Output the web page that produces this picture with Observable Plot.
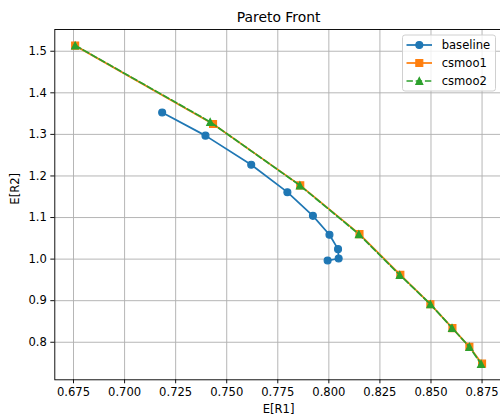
<!DOCTYPE html>
<html>
<head>
<meta charset="utf-8">
<script src="https://cdn.jsdelivr.net/npm/d3@7"></script>
<script src="https://cdn.jsdelivr.net/npm/@observablehq/plot@0.6"></script>
<style>
  html, body { margin: 0; padding: 0; background: white; overflow: hidden; }
</style>
</head>
<body>
<div id="chart"></div>
<script>
// ---- data ----
const seriesNames = ["baseline", "csmoo1", "csmoo2"];
const baselineX = [0.7184, 0.7396, 0.7620, 0.7797, 0.7922, 0.8003, 0.8045, 0.8048, 0.7994];
const baselineY = [1.3525, 1.2970, 1.2270, 1.1610, 1.1040, 1.0586, 1.0240, 1.0015, 0.9966];
const csmoo1X = [0.6758, 0.7433, 0.7860, 0.8150, 0.8350, 0.8497, 0.8605, 0.8688, 0.8750];
const csmoo1Y = [1.5135, 1.3250, 1.1774, 1.0600, 0.9620, 0.8916, 0.8340, 0.7890, 0.7485];
const csmoo2X = [0.6758, 0.7419, 0.7858, 0.8147, 0.8347, 0.8497, 0.8603, 0.8688, 0.8745];
const csmoo2Y = [1.5140, 1.3300, 1.1774, 1.0600, 0.9620, 0.8916, 0.8345, 0.7890, 0.7480];
const xTicks = [0.675, 0.700, 0.725, 0.750, 0.775, 0.800, 0.825, 0.850, 0.875];
const yTicks = [0.8, 0.9, 1.0, 1.1, 1.2, 1.3, 1.4, 1.5];
const titleText = "Pareto Front";
const xLabel = "E[R1]";
const yLabel = "E[R2]";

// ---- symbols (matplotlib-like) ----
const squareSym = { draw(ctx, size) { const s = Math.sqrt(size / Math.PI); ctx.moveTo(-s, -s); ctx.lineTo(s, -s); ctx.lineTo(s, s); ctx.lineTo(-s, s); ctx.closePath(); } };
const triSym = { draw(ctx, size) { const s = Math.sqrt(size / Math.PI); ctx.moveTo(0, -s); ctx.lineTo(-s, s); ctx.lineTo(s, s); ctx.closePath(); } };
const circleSym = { draw(ctx, size) { const s = Math.sqrt(size / Math.PI); ctx.moveTo(s, 0); ctx.arc(0, 0, s, 0, 2 * Math.PI); ctx.closePath(); } };

const colors = ["#1f77b4", "#ff7f0e", "#2ca02c"];
const symbols = [circleSym, squareSym, triSym];
const dashes = [null, null, "6.4,2.8"];

const toRows = (xs, ys) => xs.map((x, i) => ({x, y: ys[i]}));
const series = [toRows(baselineX, baselineY), toRows(csmoo1X, csmoo1Y), toRows(csmoo2X, csmoo2Y)];

// matplotlib-like 5% margins
const allX = [...baselineX, ...csmoo1X, ...csmoo2X];
const allY = [...baselineY, ...csmoo1Y, ...csmoo2Y];
const [x0, x1] = d3.extent(allX), [y0, y1] = d3.extent(allY);
const xDom = [x0 - 0.05 * (x1 - x0), x1 + 0.05 * (x1 - x0)];
const yDom = [y0 - 0.05 * (y1 - y0), y1 + 0.05 * (y1 - y0)];

const LW = 1.74, MR = 3.47, MEW = 1.16, GRID = 0.93;

const marks = [
  Plot.gridX(xTicks, {stroke: "#b0b0b0", strokeOpacity: 1, strokeWidth: GRID}),
  Plot.gridY(yTicks, {stroke: "#b0b0b0", strokeOpacity: 1, strokeWidth: GRID}),
];
series.forEach((rows, i) => {
  marks.push(Plot.line(rows, {x: "x", y: "y", stroke: colors[i], strokeWidth: LW, strokeDasharray: dashes[i] || undefined}));
  marks.push(Plot.dot(rows, {x: "x", y: "y", symbol: symbols[i], r: MR, fill: colors[i], stroke: colors[i], strokeWidth: MEW}));
});
marks.push(
  Plot.axisX(xTicks, {tickSize: 4, tickPadding: 4, tickFormat: d3.format(".3f"), stroke: "black", strokeWidth: GRID, label: null}),
  Plot.axisY(yTicks, {tickSize: 4, tickPadding: 4, tickFormat: d3.format(".1f"), stroke: "black", strokeWidth: GRID, label: null}),
  Plot.frame({stroke: "black", strokeWidth: GRID}),
  Plot.text([titleText], {frameAnchor: "top", dy: -12, fontSize: 13.9, fill: "black", lineAnchor: "middle"}),
  Plot.text([xLabel], {frameAnchor: "bottom", dy: 29, fontSize: 11.57, fill: "black", lineAnchor: "middle"}),
  Plot.text([yLabel], {frameAnchor: "left", dx: -40, rotate: -90, fontSize: 11.57, fill: "black", lineAnchor: "middle"})
);

const chart = Plot.plot({
  width: 500, height: 416,
  marginLeft: 54.3, marginRight: -1.9, marginTop: 29, marginBottom: 36.7,
  x: {domain: xDom, axis: null},
  y: {domain: yDom, axis: null},
  style: {fontFamily: "DejaVu Sans", fontSize: "11.57px", background: "white", color: "black", overflow: "visible"},
  marks
});
document.getElementById("chart").appendChild(chart);

// ---- legend ----
const svg = d3.select(chart);
const lg = svg.append("g");
lg.append("rect").attr("x", 402.5).attr("y", 35).attr("width", 93).attr("height", 56)
  .attr("rx", 2.5).attr("fill", "white").attr("fill-opacity", 0.8)
  .attr("stroke", "#cccccc").attr("stroke-width", GRID);
seriesNames.forEach((name, i) => {
  const cy = 45 + i * 18;
  lg.append("line").attr("x1", 406.5).attr("x2", 432).attr("y1", cy).attr("y2", cy)
    .attr("stroke", colors[i]).attr("stroke-width", LW).attr("stroke-dasharray", dashes[i]);
  lg.append("path").attr("transform", `translate(419.3,${cy})`)
    .attr("d", d3.symbol().type(symbols[i]).size(Math.PI * MR * MR)())
    .attr("fill", colors[i]).attr("stroke", colors[i]).attr("stroke-width", MEW);
  lg.append("text").attr("x", 441.7).attr("y", cy).attr("dy", "0.35em")
    .attr("text-anchor", "start")
    .attr("font-size", 11.57).attr("fill", "black").text(name);
});
</script>
</body>
</html>
